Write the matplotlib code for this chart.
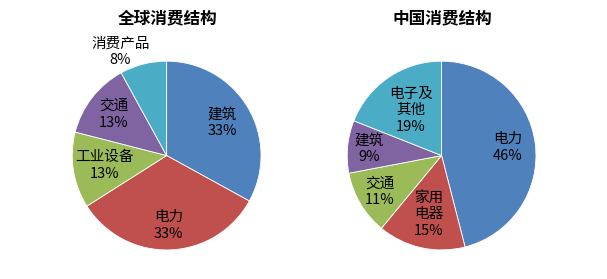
import numpy as np
from matplotlib import pyplot as plt

plt.rcParams['font.family'] = ['Noto Sans CJK SC', 'DejaVu Sans']

# 全球消费结构
world_labels = ['建筑', '电力', '工业设备', '交通', '消费产品']
world_values = [33, 33, 13, 13, 8]

# 中国消费结构
china_labels = ['电力', '家用\n电器', '交通', '建筑', '电子及\n其他']
china_values = [46, 15, 11, 9, 19]

colors = ['#4F81BD', '#C0504D', '#9BBB59', '#8064A2', '#4BACC6']


def draw_pie(ax, labels, values, dists, title, title_x, outside=None):
    wedges, _ = ax.pie(values, colors=colors, startangle=90, counterclock=False,
                       radius=1, wedgeprops=dict(edgecolor='white', linewidth=0.6))
    for i, (w, lab, v, d) in enumerate(zip(wedges, labels, values, dists)):
        ang = np.deg2rad((w.theta1 + w.theta2) / 2)
        x, y = d * np.cos(ang), d * np.sin(ang)
        if outside and i in outside:
            x, y = outside[i]
        ax.text(x, y, f'{lab}\n{v}%', ha='center', va='center',
                fontsize=10.5, linespacing=1.25)
    ax.set_xlim(-1, 1)
    ax.set_ylim(-1, 1)
    fig.text(title_x, 1 - 18 / 279, title, ha='center', va='center',
             fontsize=12, fontweight='bold')


fig = plt.figure(figsize=(6.07, 2.79), dpi=100)
ax1 = fig.add_axes([0.119, 0.104, 0.311, 0.677])
ax2 = fig.add_axes([0.572, 0.104, 0.311, 0.677])

draw_pie(ax1, world_labels, world_values, [0.68, 0.74, 0.67, 0.71, 1.2],
         '全球消费结构', 168 / 607, outside={4: (-0.49, 1.1)})
draw_pie(ax2, china_labels, china_values, [0.71, 0.64, 0.76, 0.77, 0.58],
         '中国消费结构', 442 / 607)

fig.savefig('out.png', dpi=100)
